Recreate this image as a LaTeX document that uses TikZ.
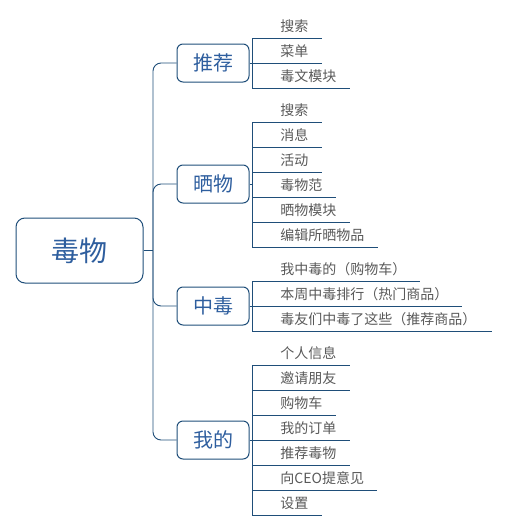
\documentclass[tikz,border=0pt]{standalone}
\usepackage{fontspec}
\setmainfont{Noto Sans CJK SC}
\definecolor{mapline}{HTML}{1F4E79}
\definecolor{mapblue}{HTML}{2E5E9E}
\definecolor{mapgray}{HTML}{595959}
\begin{document}
\begin{tikzpicture}[x=1pt,y=-1pt,mapline]
    \tikzstyle{every path}=[line width=0.9pt];
    \tikzstyle{rootbox}=[draw=mapline,line width=1pt,rounded corners=9pt,minimum width=127pt,minimum height=65pt,text=mapblue,font=\fontsize{28}{32}\selectfont];
    \tikzstyle{branchbox}=[draw=mapline,line width=1pt,rounded corners=6pt,minimum width=72pt,minimum height=38pt,text=mapblue,font=\fontsize{20}{24}\selectfont];
    \tikzstyle{leaf}=[anchor=south west,inner ysep=3.5pt,inner xsep=0pt,text height=11pt,text depth=3pt,text=mapgray,font=\fontsize{14}{16}\selectfont];
    \useasboundingbox (0,0) rectangle (509,531);

    \node at (79.5, 250.5) (root) [rootbox] {毒物};
    \coordinate (trunk) at (153, 250.5);
    \draw (root.east) -- (trunk);

    \node at (213, 63)  (tj) [branchbox] {推荐};
    \node at (213, 184) (sw) [branchbox] {晒物};
    \node at (213, 306) (zd) [branchbox] {中毒};
    \node at (213, 440) (wd) [branchbox] {我的};
    \draw[rounded corners=8pt] (trunk) |- (tj.west);
    \draw[rounded corners=8pt] (trunk) |- (sw.west);
    \draw[rounded corners=8pt] (trunk) |- (zd.west);
    \draw[rounded corners=8pt] (trunk) |- (wd.west);

    \node at (280, 38)  (tj1) [leaf] {搜索};
    \node at (280, 63)  (tj2) [leaf] {菜单};
    \node at (280, 88)  (tj3) [leaf] {毒文模块};
    \coordinate (tjb) at (252, 63);
    \draw (tj.east) -- (tjb);
    \draw (tjb |- tj1.south) -- (tjb |- tj3.south);
    \draw (tjb |- tj1.south) -- ([xshift=13pt]tj1.south east);
    \draw (tjb |- tj2.south) -- ([xshift=13pt]tj2.south east);
    \draw (tjb |- tj3.south) -- ([xshift=13pt]tj3.south east);

    \node at (280, 122) (sw1) [leaf] {搜索};
    \node at (280, 147) (sw2) [leaf] {消息};
    \node at (280, 172) (sw3) [leaf] {活动};
    \node at (280, 197) (sw4) [leaf] {毒物范};
    \node at (280, 222) (sw5) [leaf] {晒物模块};
    \node at (280, 247) (sw6) [leaf] {编辑所晒物品};
    \coordinate (swb) at (252, 184);
    \draw (sw.east) -- (swb);
    \draw (swb |- sw1.south) -- (swb |- sw6.south);
    \draw (swb |- sw1.south) -- ([xshift=13pt]sw1.south east);
    \draw (swb |- sw2.south) -- ([xshift=13pt]sw2.south east);
    \draw (swb |- sw3.south) -- ([xshift=13pt]sw3.south east);
    \draw (swb |- sw4.south) -- ([xshift=13pt]sw4.south east);
    \draw (swb |- sw5.south) -- ([xshift=13pt]sw5.south east);
    \draw (swb |- sw6.south) -- ([xshift=13pt]sw6.south east);

    \node at (280, 281) (zd1) [leaf] {我中毒的（购物车）};
    \node at (280, 306) (zd2) [leaf] {本周中毒排行（热门商品）};
    \node at (280, 331) (zd3) [leaf] {毒友们中毒了这些（推荐商品）};
    \coordinate (zdb) at (252, 306);
    \draw (zd.east) -- (zdb);
    \draw (zdb |- zd1.south) -- (zdb |- zd3.south);
    \draw (zdb |- zd1.south) -- ([xshift=13pt]zd1.south east);
    \draw (zdb |- zd2.south) -- ([xshift=13pt]zd2.south east);
    \draw (zdb |- zd3.south) -- ([xshift=15pt]zd3.south east);

    \node at (280, 365) (wd1) [leaf] {个人信息};
    \node at (280, 390) (wd2) [leaf] {邀请朋友};
    \node at (280, 415) (wd3) [leaf] {购物车};
    \node at (280, 440) (wd4) [leaf] {我的订单};
    \node at (280, 465) (wd5) [leaf] {推荐毒物};
    \node at (280, 490) (wd6) [leaf] {向CEO提意见};
    \node at (280, 515) (wd7) [leaf] {设置};
    \coordinate (wdb) at (252, 440);
    \draw (wd.east) -- (wdb);
    \draw (wdb |- wd1.south) -- (wdb |- wd7.south);
    \draw (wdb |- wd1.south) -- ([xshift=13pt]wd1.south east);
    \draw (wdb |- wd2.south) -- ([xshift=13pt]wd2.south east);
    \draw (wdb |- wd3.south) -- ([xshift=13pt]wd3.south east);
    \draw (wdb |- wd4.south) -- ([xshift=13pt]wd4.south east);
    \draw (wdb |- wd5.south) -- ([xshift=13pt]wd5.south east);
    \draw (wdb |- wd6.south) -- ([xshift=13pt]wd6.south east);
    \draw (wdb |- wd7.south) -- ([xshift=13pt]wd7.south east);
\end{tikzpicture}
\end{document}
